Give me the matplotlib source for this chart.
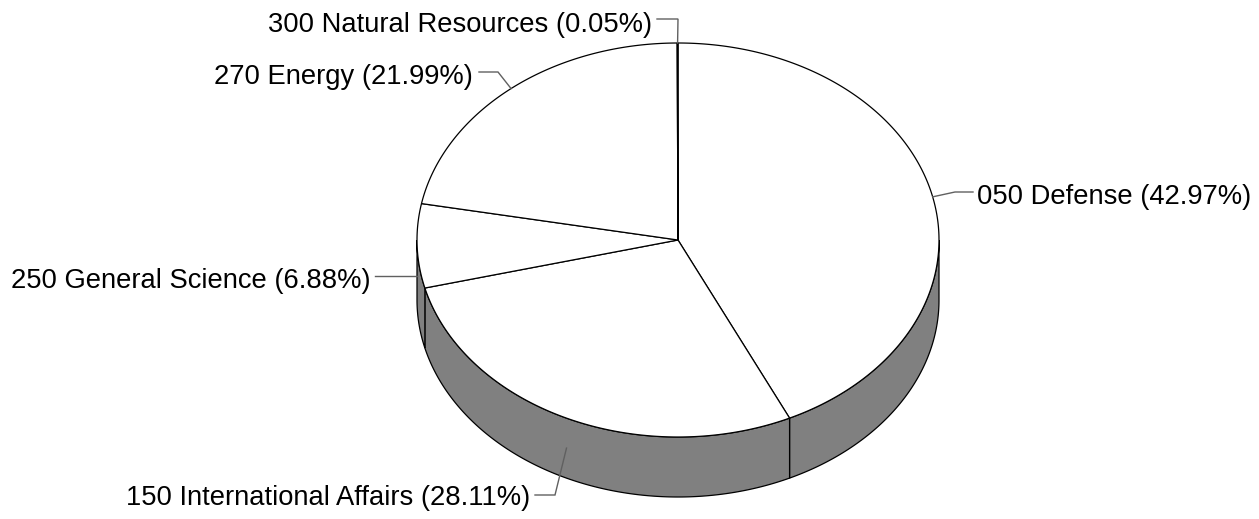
import numpy as np
import matplotlib
matplotlib.use("Agg")
import matplotlib.pyplot as plt
from matplotlib.patches import Polygon

# ---- data ----
codes = ["050", "150", "250", "270", "300"]
names = ["Defense", "International Affairs", "General Science", "Energy", "Natural Resources"]
shares = [42.97, 28.11, 6.88, 21.99, 0.05]

# ---- geometry (pixel space) ----
W, H = 1259, 519
CX, CY, RX, RY, DEPTH = 678, 240, 261, 197, 60

plt.rcParams['font.family'] = ['Liberation Sans', 'DejaVu Sans']
fig = plt.figure(figsize=(W / 100, H / 100), dpi=100)
ax = fig.add_axes([0, 0, 1, 1])
ax.set_xlim(0, W)
ax.set_ylim(H, 0)
ax.axis('off')


def pt(theta, dy=0.0):
    t = np.radians(theta)
    return CX + RX * np.sin(t), CY - RY * np.cos(t) + dy


def arc(a0, a1, dy=0.0):
    n = max(int(abs(a1 - a0) * 2) + 2, 3)
    th = np.linspace(a0, a1, n)
    xs, ys = pt(th, dy)
    return np.column_stack([xs, ys])


vals = np.array(shares)
bounds = np.concatenate([[0], np.cumsum(vals) / vals.sum() * 360])
LW = 0.9

# side wall (front half, 90..270 deg)
for i in range(len(vals)):
    a0, a1 = max(bounds[i], 90), min(bounds[i + 1], 270)
    if a1 <= a0:
        continue
    top = arc(a0, a1)
    bot = arc(a1, a0, DEPTH)
    ax.add_patch(Polygon(np.vstack([top, bot]), closed=True, facecolor='#808080',
                         edgecolor='black', lw=LW, zorder=1))

# top face
for i in range(len(vals)):
    a = arc(bounds[i], bounds[i + 1])
    poly = np.vstack([[CX, CY], a])
    ax.add_patch(Polygon(poly, closed=True, facecolor='white', edgecolor='black',
                         lw=LW, zorder=2, joinstyle='miter'))

# labels: layout (elbow point, line end, text x, baseline, alignment)
layout = [
    dict(elbow=(955, 192), end=(973, 192), tx=977, ty=204, ha='left'),
    dict(elbow=(555, 495), end=(535, 495), tx=530, ty=505, ha='right'),
    dict(elbow=None, end=(375, None), tx=371, ty=288, ha='right'),
    dict(elbow=(498, 72), end=(479, 72), tx=473, ty=84, ha='right'),
    dict(elbow=(678, 19), end=(657, 19), tx=652, ty=32, ha='right'),
]

for i in range(len(vals)):
    mid = (bounds[i] + bounds[i + 1]) / 2
    dy = DEPTH / 2 if 90 < mid < 270 else 0
    axp, ayp = pt(mid, dy)
    L = layout[i]
    if L['elbow'] is None:
        xs = [axp, L['end'][0]]
        ys = [ayp, ayp]
    else:
        xs = [axp, L['elbow'][0], L['end'][0]]
        ys = [ayp, L['elbow'][1], L['end'][1]]
    ax.plot(xs, ys, color='#606060', lw=1.0, zorder=3, solid_joinstyle='miter')
    label = f"{codes[i]} {names[i]} ({shares[i]:.2f}%)"
    ax.text(L['tx'], L['ty'], label, ha=L['ha'], va='baseline', fontsize=19.7,
            color='black', zorder=4)

fig.savefig('out.png', dpi=100, facecolor='white')
